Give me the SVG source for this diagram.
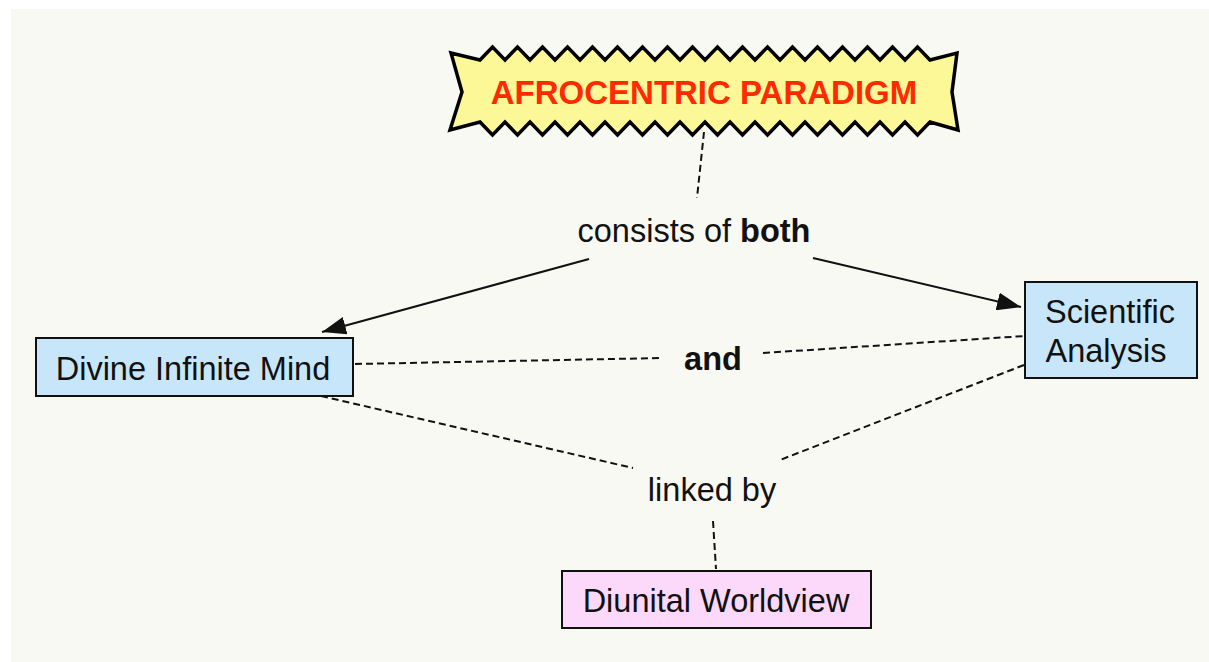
<svg xmlns="http://www.w3.org/2000/svg" width="1209" height="662" viewBox="0 0 1209 662">
  <style>
    .lbl { font-family: "Liberation Sans", Arial, Helvetica, sans-serif; font-size: 32.5px; fill: #111; }
    .box { stroke: #111; stroke-width: 2; }
    .dash { fill: none; stroke: #111; stroke-width: 2; stroke-dasharray: 7 4; }
    .solid { fill: none; stroke: #111; stroke-width: 2; }
  </style>
  <defs>
    <marker id="arrow" markerUnits="userSpaceOnUse" viewBox="0 0 24 18" refX="24" refY="9" markerWidth="24" markerHeight="18" orient="auto">
      <path d="M0,0 L24,9 L0,18 z" fill="#111"/>
    </marker>
  </defs>
  <rect x="0" y="0" width="1209" height="662" fill="#ffffff"/>
  <rect x="11" y="9" width="1198" height="653" fill="#f9f9f4"/>

  <g id="connectors">
    <line class="dash" x1="704" y1="132" x2="697" y2="198"/>
    <line class="solid" x1="589" y1="259" x2="322" y2="332" marker-end="url(#arrow)"/>
    <line class="solid" x1="813" y1="258" x2="1021" y2="307" marker-end="url(#arrow)"/>
    <line class="dash" x1="355" y1="364" x2="662" y2="358"/>
    <line class="dash" x1="763" y1="353" x2="1025" y2="336"/>
    <line class="dash" x1="321" y1="396" x2="633" y2="468"/>
    <line class="dash" x1="1024" y1="365" x2="780" y2="460"/>
    <line class="dash" x1="713" y1="521" x2="716" y2="569"/>
  </g>

  <g id="node-afrocentric">
    <path d="M451,53 L480,60 L492.5,47 L505,60 L517.5,47 L530,60 L542.5,47 L555,60 L567.5,47 L580,60 L592.5,47 L605,60 L617.5,47 L630,60 L642.5,47 L655,60 L667.5,47 L680,60 L692.5,47 L705,60 L717.5,47 L730,60 L742.5,47 L755,60 L767.5,47 L780,60 L792.5,47 L805,60 L817.5,47 L830,60 L842.5,47 L855,60 L867.5,47 L880,60 L892.5,47 L905,60 L917.5,47 L930,60 L957,53 L952,92 L958,130 L930,122 L917.5,135 L905,122 L892.5,135 L880,122 L867.5,135 L855,122 L842.5,135 L830,122 L817.5,135 L805,122 L792.5,135 L780,122 L767.5,135 L755,122 L742.5,135 L730,122 L717.5,135 L705,122 L692.5,135 L680,122 L667.5,135 L655,122 L642.5,135 L630,122 L617.5,135 L605,122 L592.5,135 L580,122 L567.5,135 L555,122 L542.5,135 L530,122 L517.5,135 L505,122 L492.5,135 L480,122 L450,130 L462,92 Z" fill="#fcf797" stroke="#000" stroke-width="3.5" stroke-linejoin="miter"/>
    <text x="704" y="104" text-anchor="middle" font-family="Liberation Sans, Arial, sans-serif" font-size="33" font-weight="bold" fill="#ff2a00">AFROCENTRIC PARADIGM</text>
  </g>

  <g id="label-consists">
    <text class="lbl" x="694" y="242" text-anchor="middle">consists of <tspan font-weight="bold">both</tspan></text>
  </g>

  <g id="node-divine">
    <rect class="box" x="36" y="338" width="317" height="58" fill="#c8e6fa"/>
    <text class="lbl" x="193" y="380" text-anchor="middle">Divine Infinite Mind</text>
  </g>

  <g id="node-scientific">
    <rect class="box" x="1025" y="282" width="172" height="96" fill="#c8e6fa"/>
    <text class="lbl" x="1110" y="323" text-anchor="middle">Scientific</text>
    <text class="lbl" x="1106" y="362" text-anchor="middle">Analysis</text>
  </g>

  <g id="label-and">
    <text class="lbl" x="713" y="370" text-anchor="middle" font-weight="bold">and</text>
  </g>

  <g id="label-linked">
    <text class="lbl" x="712" y="501" text-anchor="middle">linked by</text>
  </g>

  <g id="node-diunital">
    <rect class="box" x="562" y="571" width="309" height="57" fill="#fcd9fa"/>
    <text class="lbl" x="716" y="612" text-anchor="middle">Diunital Worldview</text>
  </g>
</svg>
